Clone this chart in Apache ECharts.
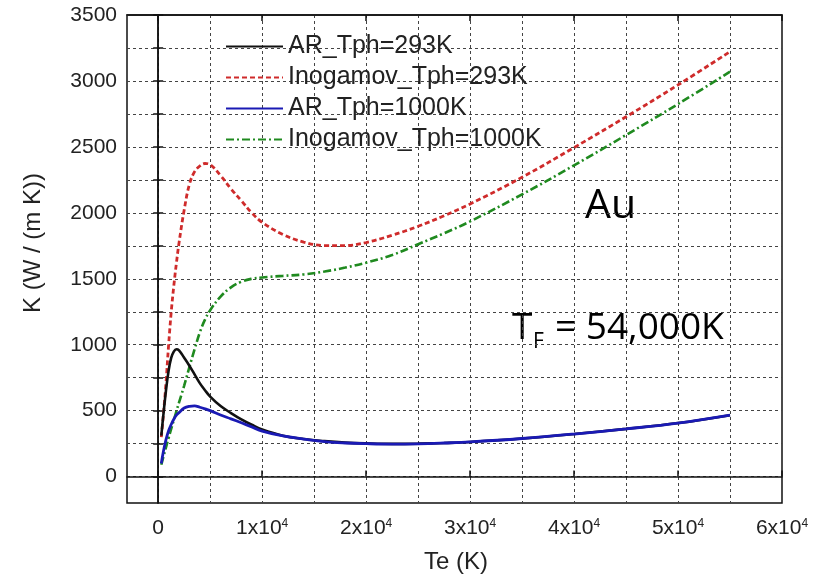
<!DOCTYPE html>
<html>
<head>
<meta charset="utf-8">
<script src="https://cdn.jsdelivr.net/npm/echarts@6/dist/echarts.min.js"></script>
<style>
html,body{margin:0;padding:0;background:#fff;}
#chart{width:821px;height:577px;}
</style>
</head>
<body>
<div id="chart"></div>
<script>
// Electron temperature Te (K)
const teValues = [300, 500, 750, 1000, 1250, 1500, 1750, 2000, 2500, 3000, 3500, 4000, 4500, 5000, 6000, 7000, 8000, 9000, 10000, 12000, 14000, 16000, 18000, 20000, 22500, 25000, 27500, 30000, 35000, 40000, 45000, 50000, 55000];
// K (W/(m K))
const arTph293 = [310, 470, 653, 802, 900, 948, 966, 958, 901, 841, 775, 709, 655, 607, 535, 482, 434, 393, 357, 310, 285, 269, 258, 252, 248, 250, 255, 263, 289, 323, 362, 406, 466];
const inogamovTph293 = [300, 470, 710, 995, 1245, 1445, 1617, 1770, 2022, 2215, 2312, 2355, 2374, 2365, 2283, 2182, 2092, 2000, 1928, 1836, 1778, 1752, 1752, 1775, 1830, 1898, 1978, 2067, 2270, 2495, 2728, 2970, 3222];
const arTph1000 = [100, 190, 280, 348, 395, 435, 466, 485, 520, 533, 536, 526, 514, 500, 467, 438, 408, 377, 345, 308, 285, 265, 255, 250, 247, 249, 255, 263, 289, 323, 362, 406, 466];
const inogamovTph1000 = [90, 150, 222, 293, 362, 428, 495, 561, 690, 830, 965, 1092, 1190, 1262, 1365, 1435, 1478, 1500, 1510, 1522, 1533, 1555, 1585, 1622, 1680, 1762, 1845, 1935, 2140, 2360, 2590, 2825, 3070];

const seriesNames = ['AR_Tph=293K', 'Inogamov_Tph=293K', 'AR_Tph=1000K', 'Inogamov_Tph=1000K'];
const xTickValues = [0, 10000, 20000, 30000, 40000, 50000, 60000];
const xGridValues = [0, 5000, 10000, 15000, 20000, 25000, 30000, 35000, 40000, 45000, 50000, 55000];
const yTickValues = [0, 500, 1000, 1500, 2000, 2500, 3000, 3500];
const yGridValues = [0, 250, 500, 750, 1000, 1250, 1500, 1750, 2000, 2250, 2500, 2750, 3000, 3250, 3500];

const FONT = '"Liberation Sans", Arial, sans-serif';
const FONT2 = '"Open Sans", "Noto Sans", sans-serif';
const gridLine = {show: true, lineStyle: {color: '#444', type: [3, 3], width: 1}};

function pairs(ys) { return teValues.map((x, i) => [x, ys[i]]); }

const chart = echarts.init(document.getElementById('chart'));
const common = {type: 'line', symbol: 'none', smooth: 0.4};
chart.setOption({
  animation: false,
  backgroundColor: '#fff',
  grid: {left: 127, top: 15, right: 39, bottom: 74, show: true, borderColor: '#111', borderWidth: 1.5, backgroundColor: 'transparent'},
  legend: {
    orient: 'vertical', left: 225, top: 34, padding: 0, itemWidth: 57, itemHeight: 14, itemGap: 6,
    itemStyle: {opacity: 0},
    textStyle: {fontSize: 25, fontFamily: FONT, color: '#222', lineHeight: 24},
    data: seriesNames
  },
  xAxis: [
    {
      type: 'value', min: -3000, max: 60000, position: 'bottom',
      axisLine: {show: true, lineStyle: {color: '#111', width: 1.5}},
      axisTick: {show: false, customValues: xGridValues},
      splitLine: gridLine,
      axisLabel: {
        customValues: xTickValues, margin: 15,
        formatter: v => v === 0 ? '{b|0}' : '{b|' + (v / 10000) + 'x10}{s|4}',
        rich: {
          b: {fontSize: 21, fontFamily: FONT, color: '#222'},
          s: {fontSize: 12, fontFamily: FONT, color: '#222', verticalAlign: 'top'}
        }
      }
    },
    {
      type: 'value', min: -3000, max: 60000, position: 'bottom',
      axisLine: {show: false},
      axisTick: {show: true, inside: true, length: 6, customValues: xTickValues, lineStyle: {color: '#111', width: 1.5}},
      axisLabel: {show: false}, splitLine: {show: false}
    },
    {
      type: 'value', min: -3000, max: 60000, position: 'top',
      axisLine: {show: true, lineStyle: {color: '#111', width: 1.5}},
      axisTick: {show: true, inside: true, length: 6, customValues: xTickValues, lineStyle: {color: '#111', width: 1.5}},
      axisLabel: {show: false}, splitLine: {show: false}
    }
  ],
  yAxis: [
    {
      type: 'value', min: -200, max: 3500, position: 'left',
      axisLine: {show: true, lineStyle: {color: '#111', width: 1.5}},
      axisTick: {show: true, inside: true, length: 5, customValues: yGridValues, lineStyle: {color: '#111', width: 1.5}},
      splitLine: gridLine,
      axisLabel: {customValues: yTickValues, margin: 10, fontSize: 21, fontFamily: FONT, color: '#222',
        formatter: v => String(v)}
    },
    {
      type: 'value', min: -200, max: 3500, position: 'right',
      axisLine: {show: true, lineStyle: {color: '#111', width: 1.5}},
      axisTick: {show: true, inside: true, length: 5, customValues: yGridValues, lineStyle: {color: '#111', width: 1.5}},
      axisLabel: {show: false}, splitLine: {show: false}
    }
  ],
  series: [
    Object.assign({}, common, {name: seriesNames[0], data: pairs(arTph293), z: 4,
      itemStyle: {color: '#111'}, lineStyle: {color: '#111', width: 2.6, type: 'solid'}}),
    Object.assign({}, common, {name: seriesNames[1], data: pairs(inogamovTph293), z: 3,
      itemStyle: {color: '#cf2b2b'}, lineStyle: {color: '#cf2b2b', width: 2.8, type: [5, 3]}}),
    Object.assign({}, common, {name: seriesNames[2], data: pairs(arTph1000), z: 5,
      itemStyle: {color: '#1a1ab4'}, lineStyle: {color: '#1a1ab4', width: 2.8, type: 'solid'}}),
    Object.assign({}, common, {name: seriesNames[3], data: pairs(inogamovTph1000), z: 3,
      itemStyle: {color: '#1f8a1f'}, lineStyle: {color: '#1f8a1f', width: 2.6, type: [8, 3, 2, 3]}})
  ],
  graphic: [
    {type: 'text', x: 33, y: 243, rotation: Math.PI / 2,
      style: {text: 'K (W / (m K))', fontSize: 24, fontFamily: FONT, fill: '#222', align: 'center', verticalAlign: 'middle'}},
    {type: 'text', x: 456, y: 562,
      style: {text: 'Te (K)', fontSize: 24, fontFamily: FONT, fill: '#222', align: 'center', verticalAlign: 'middle'}},
    {type: 'text', x: 585, y: 206,
      style: {text: 'Au', fontSize: 41, fontFamily: FONT2, fill: '#000', align: 'left', verticalAlign: 'middle'}},
    {type: 'text', x: 512, y: 328,
      style: {text: 'T', fontSize: 37, fontFamily: FONT2, fill: '#000', align: 'left', verticalAlign: 'middle'}},
    {type: 'text', x: 533, y: 342,
      style: {text: 'F', fontSize: 21, fontFamily: FONT2, fill: '#000', align: 'left', verticalAlign: 'middle'}},
    {type: 'text', x: 555, y: 328,
      style: {text: '= 54,000K', fontSize: 37, fontFamily: FONT2, fill: '#000', align: 'left', verticalAlign: 'middle'}}
  ]
});
</script>
</body>
</html>
